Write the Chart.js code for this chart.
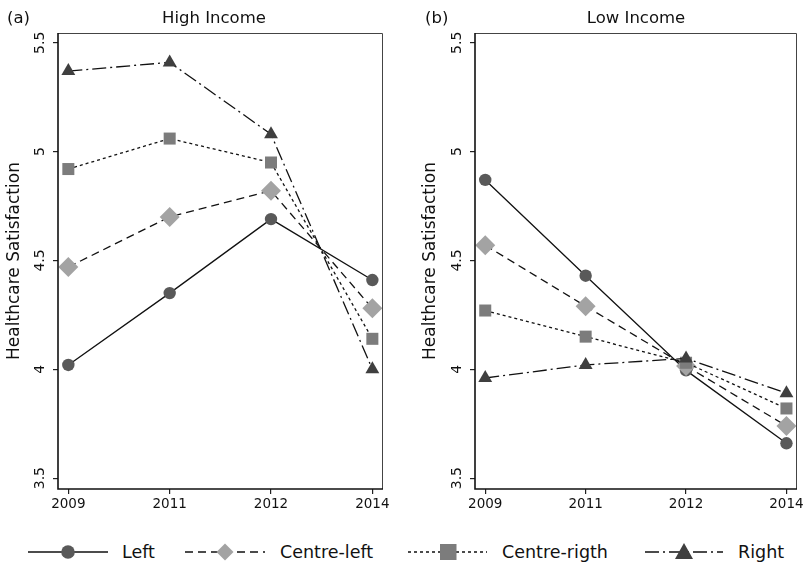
<!DOCTYPE html>
<html>
<head>
<meta charset="utf-8">
<script src="https://cdn.jsdelivr.net/npm/chart.js@4.4.0/dist/chart.umd.min.js"></script>
<style>
  body { margin: 0; background: #fff; font-family: "DejaVu Sans", sans-serif; }
  #page { position: relative; width: 807px; height: 563px; overflow: hidden; background: #fff; }
  canvas { position: absolute; top: 0; }
  .t { position: absolute; color: #111; white-space: nowrap; }
  .title { font-size: 16.5px; line-height: 17px; top: 9px; }
  .leg { font-size: 17.5px; line-height: 18px; top: 543px; }
</style>
</head>
<body>
<div id="page">
  <canvas id="high" width="400" height="515" style="left:0"></canvas>
  <canvas id="low" width="392" height="515" style="left:415px"></canvas>

  <div class="t title" style="left:7px">(a)</div>
  <div class="t title" style="left:214px;transform:translateX(-50%)">High Income</div>
  <div class="t title" style="left:425px">(b)</div>
  <div class="t title" style="left:636px;transform:translateX(-50%)">Low Income</div>

  <svg id="legsym" width="807" height="40" style="position:absolute;left:0;top:532px">
    <g stroke="#111" stroke-width="1.5" fill="none">
      <line x1="28" y1="20" x2="108" y2="20"/>
      <line x1="185" y1="20" x2="265" y2="20" stroke-dasharray="8 5"/>
      <line x1="408" y1="20" x2="487" y2="20" stroke-dasharray="3 3"/>
      <line x1="645" y1="20" x2="723" y2="20" stroke-dasharray="14 4 2 4"/>
    </g>
    <circle cx="68" cy="20" r="6.8" fill="#595959"/>
    <polygon points="225,11.5 233.5,20 225,28.5 216.5,20" fill="#a3a3a3"/>
    <rect x="440" y="12" width="16.5" height="16" fill="#7c7c7c"/>
    <polygon points="684,11 693,27 675,27" fill="#3f3f3f"/>
  </svg>
  <div class="t leg" style="left:122px">Left</div>
  <div class="t leg" style="left:280px">Centre-left</div>
  <div class="t leg" style="left:502px">Centre-rigth</div>
  <div class="t leg" style="left:738px">Right</div>
</div>

<script>
// categories and tick labels
const years = ['2009', '2011', '2012', '2014'];
const seriesNames = ['Left', 'Centre-left', 'Centre-rigth', 'Right'];
const yTicks = [3.5, 4, 4.5, 5, 5.5];

// (a) High Income
const highLeft = [4.02, 4.35, 4.69, 4.41];
const highCentreLeft = [4.47, 4.70, 4.82, 4.28];
const highCentreRight = [4.92, 5.06, 4.95, 4.14];
const highRight = [5.37, 5.41, 5.08, 4.00];

// (b) Low Income
const lowLeft = [4.87, 4.43, 3.995, 3.66];
const lowCentreLeft = [4.57, 4.29, 4.015, 3.74];
const lowCentreRight = [4.27, 4.15, 4.03, 3.82];
const lowRight = [3.96, 4.02, 4.05, 3.89];

// marker / line look for each series
const estilos = [
  { pointStyle: 'circle', radius: 6.2, color: '#595959', dash: [] },
  { pointStyle: 'rectRot', radius: 10, color: '#a3a3a3', dash: [8, 5] },
  { pointStyle: 'rect', radius: 8.5, color: '#7c7c7c', dash: [3, 3] },
  { pointStyle: 'triangle', radius: 8, color: '#3f3f3f', dash: [14, 4, 2, 4] }
];

const FONT = 'DejaVu Sans';

// frame around the plot + rotated y tick labels
const marcoPlugin = {
  id: 'marco',
  afterDraw(chart) {
    const { ctx, chartArea: a, scales: { y } } = chart;
    ctx.save();
    ctx.strokeStyle = '#444';
    ctx.lineWidth = 1;
    ctx.beginPath();
    ctx.moveTo(a.left, a.top + 0.5);
    ctx.lineTo(a.right - 0.5, a.top + 0.5);
    ctx.lineTo(a.right - 0.5, a.bottom);
    ctx.stroke();
    ctx.strokeStyle = '#111';
    ctx.lineWidth = 1.6;
    ctx.beginPath();
    ctx.moveTo(a.left, a.top);
    ctx.lineTo(a.left, a.bottom);
    ctx.lineTo(a.right, a.bottom);
    ctx.stroke();

    ctx.fillStyle = '#111';
    ctx.font = '14px "' + FONT + '"';
    ctx.textAlign = 'center';
    ctx.textBaseline = 'middle';
    yTicks.forEach(v => {
      ctx.save();
      ctx.translate(a.left - 17.5, y.getPixelForValue(v));
      ctx.rotate(-Math.PI / 2);
      ctx.fillText(String(v), 0, 0);
      ctx.restore();
    });
    ctx.restore();
  }
};

function crearPanel(id, series, anchoEjeY, padDerecha, padTitulo) {
  const datasets = series.map((vals, k) => ({
    label: seriesNames[k],
    data: vals.map((v, i) => ({ x: i, y: v })),
    borderColor: '#111',
    borderWidth: 1.3,
    borderDash: estilos[k].dash,
    pointStyle: estilos[k].pointStyle,
    pointRadius: estilos[k].radius,
    pointBackgroundColor: estilos[k].color,
    pointBorderColor: estilos[k].color,
    pointBorderWidth: 0,
    fill: false,
    tension: 0,
    order: 4 - k
  }));

  return new Chart(document.getElementById(id), {
    type: 'line',
    data: { datasets },
    options: {
      responsive: false,
      animation: false,
      layout: { padding: { top: 33, right: padDerecha, left: 0, bottom: 0 } },
      plugins: { legend: { display: false }, tooltip: { enabled: false } },
      scales: {
        x: {
          type: 'linear',
          min: -0.102,
          max: 3.105,
          afterBuildTicks: s => { s.ticks = years.map((_, i) => ({ value: i })); },
          afterFit: s => { s.height = 26; },
          ticks: {
            callback: v => years[v],
            font: { family: FONT, size: 13.5 },
            color: '#111',
            padding: 2,
            maxRotation: 0,
            autoSkip: false
          },
          grid: { drawOnChartArea: false, tickLength: 5, color: '#222', lineWidth: 1.2 },
          border: { display: false }
        },
        y: {
          min: 3.45,
          max: 5.545,
          afterBuildTicks: s => { s.ticks = yTicks.map(v => ({ value: v })); },
          afterFit: s => { s.width = anchoEjeY; },
          ticks: { display: false },
          grid: { drawOnChartArea: false, tickLength: 5, color: '#222', lineWidth: 1.2 },
          border: { display: false },
          title: {
            display: true,
            text: 'Healthcare Satisfaction',
            font: { family: FONT, size: 17 },
            color: '#111',
            padding: { top: padTitulo, bottom: 0 }
          }
        }
      }
    },
    plugins: [marcoPlugin]
  });
}

crearPanel('high', [highLeft, highCentreLeft, highCentreRight, highRight], 58, 17, 4);
crearPanel('low', [lowLeft, lowCentreLeft, lowCentreRight, lowRight], 60, 8, 5);
</script>
</body>
</html>
